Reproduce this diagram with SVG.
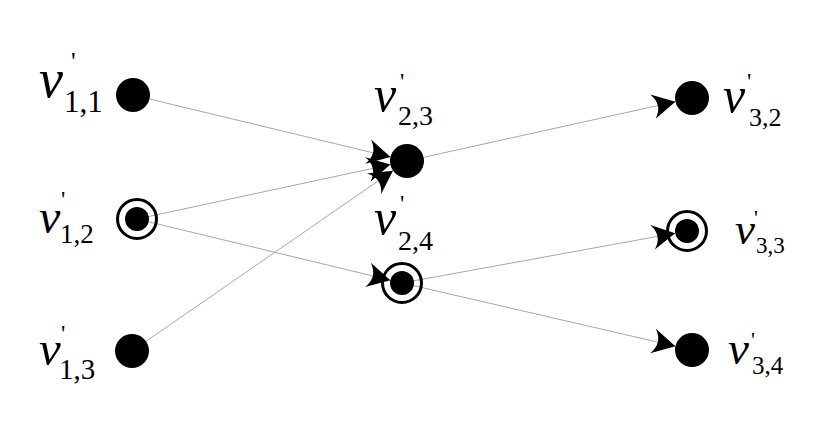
<svg xmlns="http://www.w3.org/2000/svg" width="830" height="428" viewBox="0 0 830 428">
<style>
.bg{fill:#fff}
.disk{fill:#000}
.ring{fill:none;stroke:#000;stroke-width:3}
.edge{stroke:#a8a8a8;stroke-width:1;fill:none;marker-end:url(#arr)}
.lbl{font-family:'Liberation Serif','Times New Roman',serif;fill:#000}
.v{font-style:italic}
</style>
<defs>
<marker id="arr" markerUnits="userSpaceOnUse" markerWidth="26" markerHeight="28" refX="23" refY="12.5" orient="auto" overflow="visible">
<path d="M23,12.5 L0,0 Q10,12.5 0,25 Z" fill="#000"/>
</marker>
</defs>
<rect class="bg" x="0" y="0" width="830" height="428"/>
<g id="connectors">
<line class="edge" x1="149" y1="98.9" x2="390.5" y2="157"/>
<line class="edge" x1="148.7" y1="216.5" x2="390.4" y2="164.6"/>
<line class="edge" x1="145.6" y1="341.6" x2="393" y2="170.7"/>
<line class="edge" x1="148.7" y1="221.8" x2="390.3" y2="280.2"/>
<line class="edge" x1="423.6" y1="157.3" x2="675.4" y2="101.7"/>
<line class="edge" x1="413.8" y1="280.8" x2="675.2" y2="233.2"/>
<line class="edge" x1="413.7" y1="285.7" x2="675.4" y2="346.2"/>
</g>
<g id="v11" class="lbl">
<circle class="disk" cx="133" cy="95" r="17"/>
<text class="v" x="39" y="97" font-size="54">v</text>
<text x="64" y="112" font-size="31">1,1</text>
<text x="71" y="70" font-size="26">'</text>
</g>
<g id="v12" class="lbl">
<circle class="ring" cx="137" cy="219" r="19.5"/>
<circle class="disk" cx="137" cy="219" r="12"/>
<text class="v" x="39" y="233" font-size="48">v</text>
<text x="60" y="243" font-size="27">1,2</text>
<text x="61" y="207" font-size="24">'</text>
</g>
<g id="v13" class="lbl">
<circle class="disk" cx="132" cy="351" r="17"/>
<text class="v" x="39" y="365" font-size="49">v</text>
<text x="59" y="379" font-size="29">1,3</text>
<text x="61" y="341" font-size="24">'</text>
</g>
<g id="v23" class="lbl">
<circle class="disk" cx="407" cy="161" r="17"/>
<text class="v" x="374" y="111" font-size="50">v</text>
<text x="398" y="125" font-size="28">2,3</text>
<text x="400" y="89" font-size="24">'</text>
</g>
<g id="v24" class="lbl">
<circle class="ring" cx="402" cy="283" r="19.5"/>
<circle class="disk" cx="402" cy="283" r="12"/>
<text class="v" x="374" y="234" font-size="50">v</text>
<text x="398" y="250" font-size="28">2,4</text>
<text x="400" y="211" font-size="24">'</text>
</g>
<g id="v32" class="lbl">
<circle class="disk" cx="692" cy="98" r="17"/>
<text class="v" x="723" y="112" font-size="50">v</text>
<text x="749" y="126" font-size="26">3,2</text>
<text x="747" y="89" font-size="24">'</text>
</g>
<g id="v33" class="lbl">
<circle class="ring" cx="687" cy="231" r="19.5"/>
<circle class="disk" cx="687" cy="231" r="12"/>
<text class="v" x="735" y="244" font-size="45">v</text>
<text x="756" y="253" font-size="23">3,3</text>
<text x="754" y="225" font-size="22">'</text>
</g>
<g id="v34" class="lbl">
<circle class="disk" cx="692" cy="350" r="17"/>
<text class="v" x="728" y="364" font-size="47">v</text>
<text x="752" y="374" font-size="25">3,4</text>
<text x="751" y="347" font-size="22">'</text>
</g>
</svg>
